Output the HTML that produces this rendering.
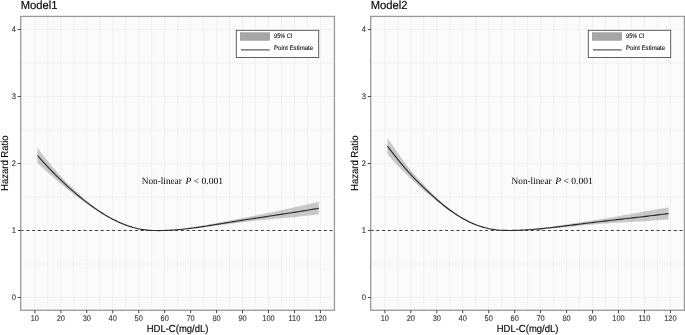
<!DOCTYPE html>
<html lang="en"><head><meta charset="utf-8"><title>Hazard Ratio by HDL-C</title>
<style>html,body{margin:0;padding:0;background:#fff;overflow:hidden}svg{display:block}</style>
</head><body>
<svg width="685" height="335" viewBox="0 0 685 335">
<style>
text{font-family:"Liberation Sans",Arial,sans-serif;fill:#000;text-rendering:geometricPrecision}
.tk{font-size:7.8px;fill:#333;stroke:#333;stroke-width:0.1px}
.ttl{font-size:11.2px;stroke:#000;stroke-width:0.15px}
.ax{font-size:9.5px;stroke:#000;stroke-width:0.12px}
.ann{font-family:"Liberation Serif","Times New Roman",serif;font-size:9.6px}
.lg{font-size:6.4px;fill:#111;stroke:#111;stroke-width:0.12px}
</style>
<rect width="685" height="335" fill="#fff"/>
<g>
<rect x="20.7" y="16.4" width="313.75" height="293.90000000000003" fill="#fbfbfb"/>
<path d="M34.85 16.4V310.3M47.83 16.4V310.3M60.81 16.4V310.3M73.79 16.4V310.3M86.77 16.4V310.3M99.75 16.4V310.3M112.73 16.4V310.3M125.71 16.4V310.3M138.69 16.4V310.3M151.67 16.4V310.3M164.65 16.4V310.3M177.63 16.4V310.3M190.61 16.4V310.3M203.59 16.4V310.3M216.57 16.4V310.3M229.55 16.4V310.3M242.53 16.4V310.3M255.51 16.4V310.3M268.49 16.4V310.3M281.47 16.4V310.3M294.45 16.4V310.3M307.43 16.4V310.3M320.41 16.4V310.3M20.7 297.50H334.45M20.7 264.00H334.45M20.7 230.50H334.45M20.7 197.00H334.45M20.7 163.50H334.45M20.7 130.00H334.45M20.7 96.50H334.45M20.7 63.00H334.45M20.7 29.50H334.45" stroke="#f0f0f0" stroke-width="1" fill="none"/>
<path d="M37.45 147.71 L40.03 151.23 L42.61 154.65 L45.19 157.97 L47.77 161.20 L50.35 164.34 L52.94 167.40 L55.52 170.37 L58.10 173.26 L60.68 176.06 L63.26 178.76 L65.84 181.38 L68.43 183.93 L71.01 186.43 L73.59 188.90 L76.17 191.35 L78.75 193.78 L81.34 196.16 L83.92 198.45 L86.50 200.63 L89.08 202.71 L91.66 204.71 L94.24 206.64 L96.83 208.51 L99.41 210.30 L101.99 212.02 L104.57 213.68 L107.15 215.27 L109.73 216.78 L112.32 218.23 L114.90 219.60 L117.48 220.90 L120.06 222.12 L122.64 223.26 L125.22 224.32 L127.81 225.29 L130.39 226.18 L132.97 226.99 L135.55 227.70 L138.13 228.32 L140.71 228.86 L143.30 229.30 L145.88 229.67 L148.46 229.97 L151.04 230.20 L153.62 230.36 L156.20 230.46 L158.79 230.50 L161.37 230.49 L163.95 230.44 L166.53 230.34 L169.11 230.19 L171.69 230.00 L174.28 229.77 L176.86 229.50 L179.44 229.20 L182.02 228.88 L184.60 228.53 L187.19 228.16 L189.77 227.78 L192.35 227.38 L194.93 226.97 L197.51 226.53 L200.09 226.08 L202.68 225.62 L205.26 225.14 L207.84 224.66 L210.42 224.17 L213.00 223.67 L215.58 223.17 L218.17 222.67 L220.75 222.18 L223.33 221.68 L225.91 221.19 L228.49 220.70 L231.07 220.22 L233.66 219.73 L236.24 219.25 L238.82 218.78 L241.40 218.30 L243.98 217.81 L246.56 217.33 L249.15 216.85 L251.73 216.36 L254.31 215.87 L256.89 215.38 L259.47 214.87 L262.05 214.36 L264.64 213.84 L267.22 213.31 L269.80 212.77 L272.38 212.22 L274.96 211.66 L277.55 211.09 L280.13 210.52 L282.71 209.95 L285.29 209.37 L287.87 208.79 L290.45 208.20 L293.04 207.62 L295.62 207.05 L298.20 206.47 L300.78 205.89 L303.36 205.30 L305.94 204.72 L308.53 204.13 L311.11 203.54 L313.69 202.94 L316.27 202.35 L318.85 201.75 L318.85 214.26 L316.27 214.59 L313.69 214.91 L311.11 215.22 L308.53 215.52 L305.94 215.81 L303.36 216.10 L300.78 216.37 L298.20 216.64 L295.62 216.91 L293.04 217.16 L290.45 217.41 L287.87 217.64 L285.29 217.87 L282.71 218.10 L280.13 218.33 L277.55 218.56 L274.96 218.79 L272.38 219.02 L269.80 219.26 L267.22 219.50 L264.64 219.76 L262.05 220.02 L259.47 220.29 L256.89 220.57 L254.31 220.85 L251.73 221.15 L249.15 221.45 L246.56 221.76 L243.98 222.08 L241.40 222.40 L238.82 222.73 L236.24 223.06 L233.66 223.41 L231.07 223.75 L228.49 224.11 L225.91 224.47 L223.33 224.82 L220.75 225.18 L218.17 225.54 L215.58 225.89 L213.00 226.24 L210.42 226.58 L207.84 226.91 L205.26 227.24 L202.68 227.55 L200.09 227.86 L197.51 228.15 L194.93 228.44 L192.35 228.72 L189.77 228.98 L187.19 229.23 L184.60 229.45 L182.02 229.65 L179.44 229.83 L176.86 229.99 L174.28 230.14 L171.69 230.27 L169.11 230.38 L166.53 230.48 L163.95 230.57 L161.37 230.64 L158.79 230.68 L156.20 230.68 L153.62 230.64 L151.04 230.54 L148.46 230.38 L145.88 230.16 L143.30 229.87 L140.71 229.49 L138.13 229.02 L135.55 228.47 L132.97 227.83 L130.39 227.10 L127.81 226.29 L125.22 225.40 L122.64 224.44 L120.06 223.39 L117.48 222.27 L114.90 221.08 L112.32 219.81 L109.73 218.48 L107.15 217.07 L104.57 215.60 L101.99 214.06 L99.41 212.47 L96.83 210.82 L94.24 209.11 L91.66 207.36 L89.08 205.56 L86.50 203.72 L83.92 201.88 L81.34 200.04 L78.75 198.18 L76.17 196.28 L73.59 194.30 L71.01 192.25 L68.43 190.14 L65.84 187.99 L63.26 185.81 L60.68 183.61 L58.10 181.39 L55.52 179.17 L52.94 176.92 L50.35 174.65 L47.77 172.35 L45.19 170.02 L42.61 167.67 L40.03 165.30 L37.45 162.91Z" fill="#6e6e6e" fill-opacity="0.36" stroke="none"/>
<path d="M37.45 155.51 L40.03 158.44 L42.61 161.32 L45.19 164.13 L47.77 166.89 L50.35 169.60 L52.94 172.25 L55.52 174.85 L58.10 177.40 L60.68 179.89 L63.26 182.34 L65.84 184.73 L68.43 187.08 L71.01 189.38 L73.59 191.64 L76.17 193.84 L78.75 196.00 L81.34 198.12 L83.92 200.18 L86.50 202.19 L89.08 204.14 L91.66 206.04 L94.24 207.89 L96.83 209.67 L99.41 211.39 L101.99 213.05 L104.57 214.65 L107.15 216.17 L109.73 217.63 L112.32 219.03 L114.90 220.34 L117.48 221.59 L120.06 222.76 L122.64 223.85 L125.22 224.86 L127.81 225.80 L130.39 226.64 L132.97 227.41 L135.55 228.08 L138.13 228.67 L140.71 229.17 L143.30 229.59 L145.88 229.92 L148.46 230.18 L151.04 230.37 L153.62 230.50 L156.20 230.57 L158.79 230.59 L161.37 230.57 L163.95 230.50 L166.53 230.41 L169.11 230.29 L171.69 230.13 L174.28 229.95 L176.86 229.75 L179.44 229.52 L182.02 229.26 L184.60 228.99 L187.19 228.70 L189.77 228.38 L192.35 228.05 L194.93 227.71 L197.51 227.35 L200.09 226.98 L202.68 226.59 L205.26 226.20 L207.84 225.79 L210.42 225.38 L213.00 224.97 L215.58 224.55 L218.17 224.12 L220.75 223.70 L223.33 223.27 L225.91 222.85 L228.49 222.42 L231.07 222.01 L233.66 221.59 L236.24 221.18 L238.82 220.78 L241.40 220.38 L243.98 219.98 L246.56 219.58 L249.15 219.19 L251.73 218.79 L254.31 218.40 L256.89 218.01 L259.47 217.63 L262.05 217.24 L264.64 216.85 L267.22 216.46 L269.80 216.08 L272.38 215.69 L274.96 215.30 L277.55 214.91 L280.13 214.52 L282.71 214.13 L285.29 213.73 L287.87 213.33 L290.45 212.93 L293.04 212.53 L295.62 212.12 L298.20 211.71 L300.78 211.29 L303.36 210.87 L305.94 210.44 L308.53 210.01 L311.11 209.57 L313.69 209.13 L316.27 208.68 L318.85 208.22" fill="none" stroke="#242424" stroke-width="1.1" stroke-linejoin="round"/>
<path d="M20.7 230.50H334.45" stroke="#2e2e2e" stroke-width="0.95" stroke-dasharray="2.86 2.86" fill="none"/>
<rect x="20.7" y="16.4" width="313.75" height="293.90000000000003" fill="none" stroke="#9a9a9a" stroke-width="1.3"/>
<path d="M34.85 310.3v2.9M60.81 310.3v2.9M86.77 310.3v2.9M112.73 310.3v2.9M138.69 310.3v2.9M164.65 310.3v2.9M190.61 310.3v2.9M216.57 310.3v2.9M242.53 310.3v2.9M268.49 310.3v2.9M294.45 310.3v2.9M320.41 310.3v2.9M20.7 297.50h-2.9M20.7 230.50h-2.9M20.7 163.50h-2.9M20.7 96.50h-2.9M20.7 29.50h-2.9" stroke="#444" stroke-width="1" fill="none"/>
<text class="tk" transform="translate(34.85 321) scale(0.95 1.05)" text-anchor="middle">10</text>
<text class="tk" transform="translate(60.81 321) scale(0.95 1.05)" text-anchor="middle">20</text>
<text class="tk" transform="translate(86.77 321) scale(0.95 1.05)" text-anchor="middle">30</text>
<text class="tk" transform="translate(112.73 321) scale(0.95 1.05)" text-anchor="middle">40</text>
<text class="tk" transform="translate(138.69 321) scale(0.95 1.05)" text-anchor="middle">50</text>
<text class="tk" transform="translate(164.65 321) scale(0.95 1.05)" text-anchor="middle">60</text>
<text class="tk" transform="translate(190.61 321) scale(0.95 1.05)" text-anchor="middle">70</text>
<text class="tk" transform="translate(216.57 321) scale(0.95 1.05)" text-anchor="middle">80</text>
<text class="tk" transform="translate(242.53 321) scale(0.95 1.05)" text-anchor="middle">90</text>
<text class="tk" transform="translate(268.49 321) scale(0.95 1.05)" text-anchor="middle">100</text>
<text class="tk" transform="translate(294.45 321) scale(0.95 1.05)" text-anchor="middle">110</text>
<text class="tk" transform="translate(320.41 321) scale(0.95 1.05)" text-anchor="middle">120</text>
<text class="tk" transform="translate(16.00 300.40) scale(0.97 1.05)" text-anchor="end">0</text>
<text class="tk" transform="translate(16.00 233.40) scale(0.97 1.05)" text-anchor="end">1</text>
<text class="tk" transform="translate(16.00 166.40) scale(0.97 1.05)" text-anchor="end">2</text>
<text class="tk" transform="translate(16.00 99.40) scale(0.97 1.05)" text-anchor="end">3</text>
<text class="tk" transform="translate(16.00 32.40) scale(0.97 1.05)" text-anchor="end">4</text>
<text class="ttl" transform="translate(20.70 9.1) scale(1 1.04)">Model1</text>
<text class="ax" transform="translate(177.57 331.6) scale(1 1.07)" text-anchor="middle">HDL-C(mg/dL)</text>
<text class="ax" transform="translate(8.05 163.2) rotate(-90) scale(1 1.07)" text-anchor="middle">Hazard Ratio</text>
<text class="ann" y="183.8"><tspan x="141.80" textLength="40" lengthAdjust="spacingAndGlyphs">Non-linear</tspan> <tspan x="185.40" font-style="italic">P</tspan> &lt; 0.001</text>
<rect x="236.30" y="30.3" width="82.4" height="27.2" fill="#fff" stroke="#454545" stroke-width="0.85"/>
<rect x="240.20" y="32.65" width="29.6" height="7.8" fill="#a6a6a6" stroke="#8c8c8c" stroke-width="0.4"/>
<path d="M240.90 49.85h28.8" stroke="#7f7f7f" stroke-width="1.6" fill="none"/>
<text class="lg" x="274.05" y="37.8" textLength="18.2" lengthAdjust="spacingAndGlyphs">95% CI</text>
<text class="lg" x="274.05" y="50.3" textLength="39.1" lengthAdjust="spacingAndGlyphs">Point Estimate</text>
</g>
<g>
<rect x="370.7" y="16.4" width="313.75" height="293.90000000000003" fill="#fbfbfb"/>
<path d="M384.85 16.4V310.3M397.83 16.4V310.3M410.81 16.4V310.3M423.79 16.4V310.3M436.77 16.4V310.3M449.75 16.4V310.3M462.73 16.4V310.3M475.71 16.4V310.3M488.69 16.4V310.3M501.67 16.4V310.3M514.65 16.4V310.3M527.63 16.4V310.3M540.61 16.4V310.3M553.59 16.4V310.3M566.57 16.4V310.3M579.55 16.4V310.3M592.53 16.4V310.3M605.51 16.4V310.3M618.49 16.4V310.3M631.47 16.4V310.3M644.45 16.4V310.3M657.43 16.4V310.3M670.41 16.4V310.3M370.7 297.50H684.45M370.7 264.00H684.45M370.7 230.50H684.45M370.7 197.00H684.45M370.7 163.50H684.45M370.7 130.00H684.45M370.7 96.50H684.45M370.7 63.00H684.45M370.7 29.50H684.45" stroke="#f0f0f0" stroke-width="1" fill="none"/>
<path d="M387.45 137.93 L390.03 141.75 L392.60 145.52 L395.18 149.25 L397.76 152.93 L400.34 156.55 L402.92 160.12 L405.50 163.61 L408.08 166.97 L410.66 170.19 L413.24 173.25 L415.82 176.19 L418.40 179.04 L420.98 181.81 L423.56 184.54 L426.14 187.24 L428.72 189.91 L431.29 192.53 L433.87 195.08 L436.45 197.54 L439.03 199.90 L441.61 202.18 L444.19 204.39 L446.77 206.51 L449.35 208.55 L451.93 210.49 L454.51 212.34 L457.09 214.11 L459.67 215.78 L462.25 217.36 L464.83 218.85 L467.41 220.25 L469.98 221.56 L472.56 222.77 L475.14 223.89 L477.72 224.92 L480.30 225.85 L482.88 226.69 L485.46 227.43 L488.04 228.08 L490.62 228.63 L493.20 229.09 L495.78 229.47 L498.36 229.78 L500.94 230.02 L503.52 230.19 L506.10 230.30 L508.67 230.36 L511.25 230.37 L513.83 230.34 L516.41 230.27 L518.99 230.16 L521.57 230.02 L524.15 229.83 L526.73 229.62 L529.31 229.38 L531.89 229.12 L534.47 228.84 L537.05 228.54 L539.63 228.24 L542.21 227.92 L544.79 227.59 L547.36 227.24 L549.94 226.88 L552.52 226.51 L555.10 226.13 L557.68 225.74 L560.26 225.34 L562.84 224.95 L565.42 224.55 L568.00 224.15 L570.58 223.76 L573.16 223.37 L575.74 222.98 L578.32 222.59 L580.90 222.20 L583.47 221.82 L586.05 221.44 L588.63 221.05 L591.21 220.67 L593.79 220.27 L596.37 219.88 L598.95 219.47 L601.53 219.07 L604.11 218.65 L606.69 218.24 L609.27 217.81 L611.85 217.38 L614.43 216.94 L617.01 216.50 L619.59 216.05 L622.16 215.59 L624.74 215.12 L627.32 214.65 L629.90 214.18 L632.48 213.71 L635.06 213.24 L637.64 212.76 L640.22 212.29 L642.80 211.83 L645.38 211.37 L647.96 210.93 L650.54 210.48 L653.12 210.03 L655.70 209.58 L658.28 209.14 L660.85 208.69 L663.43 208.26 L666.01 207.82 L668.59 207.39 L668.59 219.24 L666.01 219.48 L663.43 219.72 L660.85 219.94 L658.28 220.16 L655.70 220.36 L653.12 220.56 L650.54 220.75 L647.96 220.94 L645.38 221.12 L642.80 221.29 L640.22 221.45 L637.64 221.59 L635.06 221.73 L632.48 221.87 L629.90 222.01 L627.32 222.15 L624.74 222.29 L622.16 222.43 L619.59 222.57 L617.01 222.72 L614.43 222.88 L611.85 223.05 L609.27 223.21 L606.69 223.39 L604.11 223.58 L601.53 223.78 L598.95 223.98 L596.37 224.19 L593.79 224.41 L591.21 224.63 L588.63 224.87 L586.05 225.12 L583.47 225.37 L580.90 225.63 L578.32 225.89 L575.74 226.16 L573.16 226.42 L570.58 226.69 L568.00 226.95 L565.42 227.21 L562.84 227.47 L560.26 227.71 L557.68 227.95 L555.10 228.18 L552.52 228.41 L549.94 228.63 L547.36 228.84 L544.79 229.04 L542.21 229.24 L539.63 229.43 L537.05 229.60 L534.47 229.75 L531.89 229.88 L529.31 230.00 L526.73 230.10 L524.15 230.19 L521.57 230.28 L518.99 230.35 L516.41 230.42 L513.83 230.48 L511.25 230.52 L508.67 230.54 L506.10 230.53 L503.52 230.47 L500.94 230.36 L498.36 230.20 L495.78 229.97 L493.20 229.66 L490.62 229.27 L488.04 228.78 L485.46 228.21 L482.88 227.54 L480.30 226.77 L477.72 225.92 L475.14 224.98 L472.56 223.95 L469.98 222.83 L467.41 221.63 L464.83 220.34 L462.25 218.97 L459.67 217.50 L457.09 215.96 L454.51 214.33 L451.93 212.62 L449.35 210.83 L446.77 208.97 L444.19 207.04 L441.61 205.04 L439.03 203.00 L436.45 200.90 L433.87 198.79 L431.29 196.67 L428.72 194.54 L426.14 192.38 L423.56 190.19 L420.98 187.96 L418.40 185.69 L415.82 183.37 L413.24 181.01 L410.66 178.59 L408.08 176.12 L405.50 173.61 L402.92 171.04 L400.34 168.39 L397.76 165.65 L395.18 162.82 L392.60 159.93 L390.03 156.98 L387.45 153.98Z" fill="#6e6e6e" fill-opacity="0.36" stroke="none"/>
<path d="M387.45 146.17 L390.03 149.56 L392.60 152.91 L395.18 156.20 L397.76 159.43 L400.34 162.60 L402.92 165.69 L405.50 168.70 L408.08 171.63 L410.66 174.46 L413.24 177.19 L415.82 179.84 L418.40 182.41 L420.98 184.93 L423.56 187.40 L426.14 189.84 L428.72 192.25 L431.29 194.62 L433.87 196.95 L436.45 199.23 L439.03 201.46 L441.61 203.62 L444.19 205.72 L446.77 207.75 L449.35 209.70 L451.93 211.56 L454.51 213.34 L457.09 215.04 L459.67 216.65 L462.25 218.17 L464.83 219.60 L467.41 220.94 L469.98 222.20 L472.56 223.37 L475.14 224.44 L477.72 225.42 L480.30 226.31 L482.88 227.11 L485.46 227.82 L488.04 228.43 L490.62 228.95 L493.20 229.38 L495.78 229.72 L498.36 229.99 L500.94 230.19 L503.52 230.33 L506.10 230.41 L508.67 230.45 L511.25 230.45 L513.83 230.41 L516.41 230.35 L518.99 230.26 L521.57 230.15 L524.15 230.01 L526.73 229.86 L529.31 229.69 L531.89 229.50 L534.47 229.29 L537.05 229.07 L539.63 228.83 L542.21 228.58 L544.79 228.32 L547.36 228.05 L549.94 227.76 L552.52 227.47 L555.10 227.16 L557.68 226.85 L560.26 226.54 L562.84 226.22 L565.42 225.89 L568.00 225.57 L570.58 225.24 L573.16 224.91 L575.74 224.58 L578.32 224.26 L580.90 223.94 L583.47 223.62 L586.05 223.30 L588.63 222.99 L591.21 222.68 L593.79 222.37 L596.37 222.06 L598.95 221.76 L601.53 221.46 L604.11 221.16 L606.69 220.86 L609.27 220.56 L611.85 220.26 L614.43 219.97 L617.01 219.67 L619.59 219.38 L622.16 219.08 L624.74 218.79 L627.32 218.49 L629.90 218.19 L632.48 217.90 L635.06 217.60 L637.64 217.30 L640.22 217.00 L642.80 216.70 L645.38 216.39 L647.96 216.08 L650.54 215.77 L653.12 215.46 L655.70 215.15 L658.28 214.83 L660.85 214.51 L663.43 214.18 L666.01 213.86 L668.59 213.52" fill="none" stroke="#242424" stroke-width="1.1" stroke-linejoin="round"/>
<path d="M370.7 230.50H684.45" stroke="#2e2e2e" stroke-width="0.95" stroke-dasharray="2.86 2.86" fill="none"/>
<rect x="370.7" y="16.4" width="313.75" height="293.90000000000003" fill="none" stroke="#9a9a9a" stroke-width="1.3"/>
<path d="M384.85 310.3v2.9M410.81 310.3v2.9M436.77 310.3v2.9M462.73 310.3v2.9M488.69 310.3v2.9M514.65 310.3v2.9M540.61 310.3v2.9M566.57 310.3v2.9M592.53 310.3v2.9M618.49 310.3v2.9M644.45 310.3v2.9M670.41 310.3v2.9M370.7 297.50h-2.9M370.7 230.50h-2.9M370.7 163.50h-2.9M370.7 96.50h-2.9M370.7 29.50h-2.9" stroke="#444" stroke-width="1" fill="none"/>
<text class="tk" transform="translate(384.85 321) scale(0.95 1.05)" text-anchor="middle">10</text>
<text class="tk" transform="translate(410.81 321) scale(0.95 1.05)" text-anchor="middle">20</text>
<text class="tk" transform="translate(436.77 321) scale(0.95 1.05)" text-anchor="middle">30</text>
<text class="tk" transform="translate(462.73 321) scale(0.95 1.05)" text-anchor="middle">40</text>
<text class="tk" transform="translate(488.69 321) scale(0.95 1.05)" text-anchor="middle">50</text>
<text class="tk" transform="translate(514.65 321) scale(0.95 1.05)" text-anchor="middle">60</text>
<text class="tk" transform="translate(540.61 321) scale(0.95 1.05)" text-anchor="middle">70</text>
<text class="tk" transform="translate(566.57 321) scale(0.95 1.05)" text-anchor="middle">80</text>
<text class="tk" transform="translate(592.53 321) scale(0.95 1.05)" text-anchor="middle">90</text>
<text class="tk" transform="translate(618.49 321) scale(0.95 1.05)" text-anchor="middle">100</text>
<text class="tk" transform="translate(644.45 321) scale(0.95 1.05)" text-anchor="middle">110</text>
<text class="tk" transform="translate(670.41 321) scale(0.95 1.05)" text-anchor="middle">120</text>
<text class="tk" transform="translate(366.00 300.40) scale(0.97 1.05)" text-anchor="end">0</text>
<text class="tk" transform="translate(366.00 233.40) scale(0.97 1.05)" text-anchor="end">1</text>
<text class="tk" transform="translate(366.00 166.40) scale(0.97 1.05)" text-anchor="end">2</text>
<text class="tk" transform="translate(366.00 99.40) scale(0.97 1.05)" text-anchor="end">3</text>
<text class="tk" transform="translate(366.00 32.40) scale(0.97 1.05)" text-anchor="end">4</text>
<text class="ttl" transform="translate(370.70 9.1) scale(1 1.04)">Model2</text>
<text class="ax" transform="translate(527.58 331.6) scale(1 1.07)" text-anchor="middle">HDL-C(mg/dL)</text>
<text class="ax" transform="translate(358.05 163.2) rotate(-90) scale(1 1.07)" text-anchor="middle">Hazard Ratio</text>
<text class="ann" y="183.8"><tspan x="511.60" textLength="40" lengthAdjust="spacingAndGlyphs">Non-linear</tspan> <tspan x="555.20" font-style="italic">P</tspan> &lt; 0.001</text>
<rect x="588.30" y="30.3" width="82.4" height="27.2" fill="#fff" stroke="#454545" stroke-width="0.85"/>
<rect x="592.20" y="32.65" width="29.6" height="7.8" fill="#a6a6a6" stroke="#8c8c8c" stroke-width="0.4"/>
<path d="M592.90 49.85h28.8" stroke="#7f7f7f" stroke-width="1.6" fill="none"/>
<text class="lg" x="626.05" y="37.8" textLength="18.2" lengthAdjust="spacingAndGlyphs">95% CI</text>
<text class="lg" x="626.05" y="50.3" textLength="39.1" lengthAdjust="spacingAndGlyphs">Point Estimate</text>
</g>
</svg>
</body></html>
